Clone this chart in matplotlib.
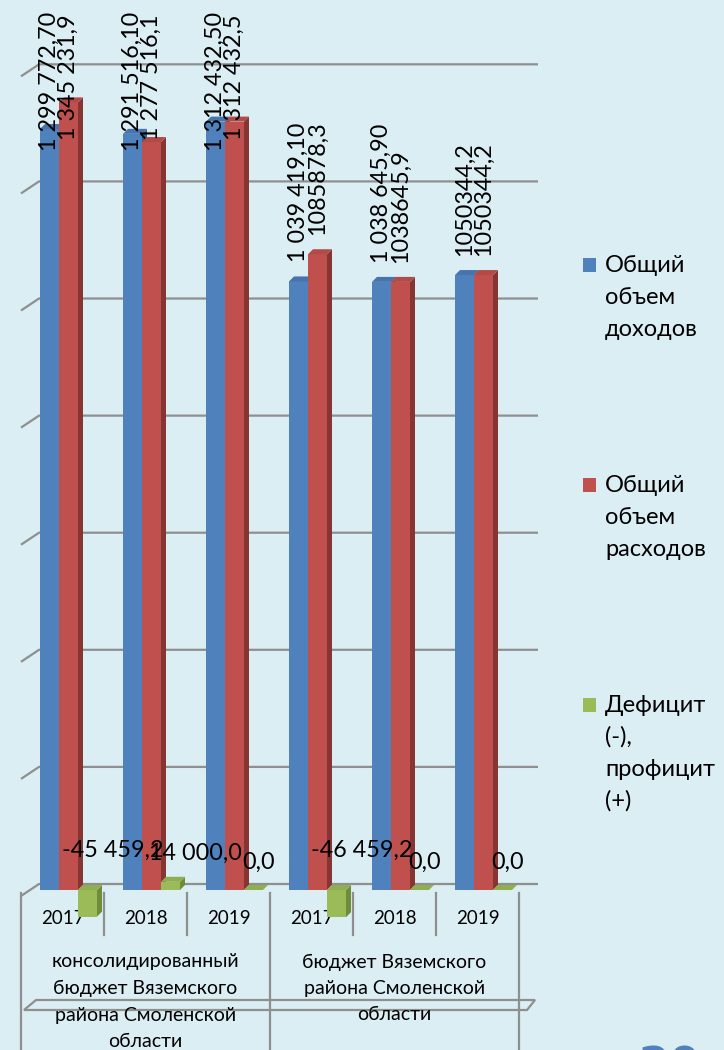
import matplotlib
matplotlib.use("Agg")
import matplotlib.pyplot as plt
from matplotlib.patches import Polygon, Rectangle
import numpy as np

# categories
years = ["2017", "2018", "2019", "2017", "2018", "2019"]
groups = ["консолидированный\nбюджет Вяземского\nрайона Смоленской\nобласти",
          "бюджет Вяземского\nрайона Смоленской\nобласти"]
series_names = ["Общий\nобъем\nдоходов",
                "Общий\nобъем\nрасходов",
                "Дефицит\n(-),\nпрофицит\n(+)"]

# values (thousand rub.)
income = [1299772.70, 1291516.10, 1312432.50, 1039419.10, 1038645.90, 1050344.2]
expense = [1345231.9, 1277516.1, 1312432.5, 1085878.3, 1038645.9, 1050344.2]
balance = [-45459.2, 14000.0, 0.0, -46459.2, 0.0, 0.0]

# data labels exactly as printed on the chart
income_labels = ["1 299 772,70", "1 291 516,10", "1 312 432,50",
                 "1 039 419,10", "1 038 645,90", "1050344,2"]
expense_labels = ["1 345 231,9", "1 277 516,1", "1 312 432,5",
                  "1085878,3", "1038645,9", "1050344,2"]
balance_labels = ["-45 459,2", "14 000,0", "0,0", "-46 459,2", "0,0", "0,0"]

FRONT = ["#4f81bd", "#c0504d", "#9bbb59"]
TOP = ["#4774ad", "#b24a47", "#8fae50"]
SIDE = ["#37608f", "#873533", "#6f8c3a"]
BG = "#dbeef4"
GRID = "#8f8f8f"

W, H = 724, 1050
plt.rcParams["font.family"] = ["Lato", "DejaVu Sans"]

fig = plt.figure(figsize=(W / 100, H / 100), dpi=100, facecolor=BG)
ax = fig.add_axes([21 / W, 0, 498 / W, 1])
ax.axis("off")

VPP = 1708.0          # value per pixel
BASE = 890            # pixel row of zero on the bar front faces
XPX = 6 / 498         # category units per pixel
ax.set_xlim(-0.5, 5.5)
ax.set_ylim((BASE - H) * VPP, BASE * VPP)


def val(p):
    """pixel row -> value on the front-face scale"""
    return (BASE - p) * VPP


def xpix(p):
    """pixel column -> category x"""
    return (p - 21) * XPX - 0.5


# back wall gridlines with the short side-wall diagonal
for v in np.arange(0, 1400001, 200000):
    ax.plot([-0.5, -0.5 + 18 * XPX, 5.5 + 19 * XPX],
            [v - 6 * VPP, v + 6 * VPP, v + 6 * VPP],
            color=GRID, lw=1.6, zorder=1, solid_capstyle="butt",
            clip_on=False)

# 3d columns
bw = 19 * XPX
dx, dy = 5 * XPX, 5 * VPP
series = [income, expense, balance]
for c, vals in enumerate(series):
    xl = np.arange(len(years)) - 0.5 + (19 + 19 * c) * XPX
    ax.bar(xl, vals, width=bw, align="edge", color=FRONT[c],
           edgecolor="none", zorder=3 + c)
    for x0, v in zip(xl, vals):
        lo, hi = min(0, v), max(0, v)
        ax.add_patch(Polygon([(x0 + bw, lo), (x0 + bw + dx, lo + dy),
                              (x0 + bw + dx, hi + dy), (x0 + bw, hi)],
                             closed=True, fc=SIDE[c], ec="none", zorder=3 + c))
        ax.add_patch(Polygon([(x0, hi), (x0 + dx, hi + dy),
                              (x0 + bw + dx, hi + dy), (x0 + bw, hi)],
                             closed=True, fc=TOP[c], ec="none", zorder=3 + c))

    if c < 2:
        labels = income_labels if c == 0 else expense_labels
        for x0, v, lab in zip(xl, vals, labels):
            xc = x0 + bw / 2
            if v + 160 * VPP > val(12):
                ax.text(xc, val(12 + 2 * c), lab, rotation=90, ha="center",
                        va="top", fontsize=16.8, zorder=10)
            else:
                ax.text(xc, v + 19 * VPP, lab, rotation=90, ha="center",
                        va="bottom", fontsize=16.8, zorder=10)
    else:
        for x0, v, lab in zip(xl, vals, balance_labels):
            shift = 25 if v != 0 else 5
            lift = 28 + (12 if v < 0 else 0)
            ax.text(x0 + bw / 2 + shift * XPX, max(v, 0) + lift * VPP, lab,
                    ha="center", va="center", fontsize=16.8, zorder=10)

# category table lines
for k in range(len(years) + 1):
    bottom = 1050 if k % 3 == 0 else 935
    ax.plot([k - 0.5, k - 0.5], [val(893), val(bottom)], color=GRID,
            lw=1.6, zorder=1, clip_on=False)
ax.add_patch(Polygon([(xpix(24), val(1010)), (xpix(36), val(1000)),
                      (xpix(535), val(1000)), (xpix(527), val(1010))],
                     closed=True, fill=False, ec=GRID, lw=1.6, zorder=1,
                     clip_on=False))

for i, y in enumerate(years):
    ax.text(i, val(918), y, ha="center", va="center", fontsize=13.5)

for g, txt in enumerate(groups):
    for j, line in enumerate(txt.split("\n")):
        ax.text(1 + 3 * g, val(962 + 26.5 * j), line, ha="center",
                va="center", fontsize=14, zorder=8)

# legend
for k, name in enumerate(series_names):
    base = 272 + 220 * k
    fig.patches.append(Rectangle((583 / W, 1 - base / H), 13 / W, 14 / H,
                                 transform=fig.transFigure, fc=FRONT[k],
                                 ec="none"))
    for j, line in enumerate(name.split("\n")):
        fig.text(605 / W, 1 - (base + 32 * j) / H, line, ha="left",
                 va="baseline", fontsize=17)

# page number, cut by the bottom edge
fig.text(670 / W, 1 - 1046 / H, "20", ha="center", va="top", fontsize=32,
         fontweight="bold", color="#4f81bd", family="DejaVu Sans")

fig.savefig("out.png", dpi=100, facecolor=BG)
